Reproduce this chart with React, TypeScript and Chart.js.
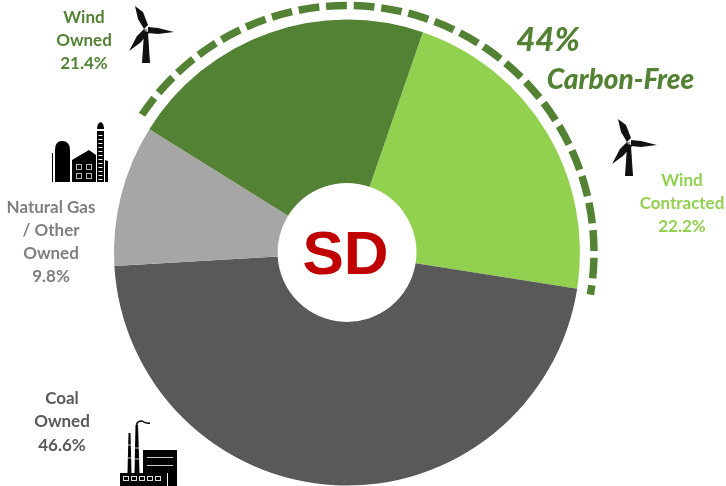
import React, { useEffect, useRef } from "react";
import { Chart, registerables } from "chart.js";

Chart.register(...registerables);

const categories = ["Wind Contracted", "Coal Owned", "Natural Gas / Other Owned", "Wind Owned"];
const shares = [22.2, 46.6, 9.8, 21.4];
const colors = ["#92D050", "#595959", "#A6A6A6", "#548235"];
const centerLabel = "SD";
const carbonShare = "44%";
const carbonLabel = "Carbon-Free";

type Note = { lines: string[]; x: number; ys: number[]; color: string };
const notes: Note[] = [
  { lines: ["Wind", "Owned", "21.4%"], x: 84, ys: [18, 41, 64], color: "#548235" },
  { lines: ["Natural Gas", "/ Other", "Owned", "9.8%"], x: 51, ys: [208, 231, 254, 277], color: "#7F7F7F" },
  { lines: ["Coal", "Owned", "46.6%"], x: 62, ys: [399, 422, 446], color: "#595959" },
  { lines: ["Wind", "Contracted", "22.2%"], x: 682, ys: [181, 204, 227], color: "#92D050" },
];

function turbine(ctx: CanvasRenderingContext2D, x: number, y: number) {
  ctx.save();
  ctx.translate(x, y);
  ctx.fillStyle = "#111111";
  ctx.fill(new Path2D("M-11 -24 L-3 -18 L2 -5 L-2 -1 L-8 -11 Z"));
  ctx.fill(new Path2D("M28 2 L12 -2 L2 -3 L2 3 L12 4 Z"));
  ctx.fill(new Path2D("M-17 21 L-9 6 L-2 -1 L3 3 L-6 13 Z"));
  ctx.fill(new Path2D("M-2 3 L2 3 L4 33 L-4 33 Z"));
  ctx.fillStyle = "#999999";
  ctx.beginPath();
  ctx.arc(0, 0, 1.5, 0, Math.PI * 2);
  ctx.fill();
  ctx.restore();
}

function barn(ctx: CanvasRenderingContext2D) {
  ctx.save();
  ctx.fillStyle = "#000000";
  ctx.fill(new Path2D("M55 182 L55 150 Q55 141 62 141 Q70 141 70 150 L70 182 Z"));
  ctx.fill(new Path2D("M52 182 L52 153 L53 153 L53 182 Z"));
  ctx.fill(new Path2D("M72 182 L72 160 L89 150 L96 155 L96 182 Z"));
  ctx.fill(new Path2D("M97 182 L97 131 L104 131 L104 182 Z"));
  ctx.fill(new Path2D("M97 129 Q97 123 101 122 Q104 124 104 129 Z"));
  ctx.fill(new Path2D("M105 160 L108 161 L108 182 L105 182 Z"));
  ctx.strokeStyle = "#FFFFFF";
  ctx.lineWidth = 1;
  for (let y = 135; y < 182; y += 4) {
    ctx.beginPath();
    ctx.moveTo(98.5, y + 0.5);
    ctx.lineTo(102.5, y + 0.5);
    ctx.stroke();
  }
  ctx.strokeStyle = "#BBBBBB";
  [[76, 164], [86, 164], [76, 173], [86, 173]].forEach(([x, y]) => {
    ctx.strokeRect(x + 0.5, y + 0.5, 5, 5);
  });
  ctx.restore();
}

function factory(ctx: CanvasRenderingContext2D) {
  ctx.save();
  ctx.fillStyle = "#000000";
  ctx.fill(new Path2D("M127.5 473 L128.5 433 L130.5 433 L131.5 473 Z"));
  ctx.fill(new Path2D("M134.5 473 L135.5 425 L138 425 L139.5 473 Z"));
  ctx.fill(new Path2D("M143 486 L143 450 L177 450 L177 486 Z"));
  ctx.fill(new Path2D("M120 486 L120 473 L167 473 L167 486 Z"));
  ctx.strokeStyle = "#000000";
  ctx.lineWidth = 1.5;
  ctx.beginPath();
  ctx.moveTo(136.5, 425);
  ctx.quadraticCurveTo(137, 421, 142, 421);
  ctx.quadraticCurveTo(146, 424, 150, 423);
  ctx.stroke();
  ctx.strokeStyle = "#CCCCCC";
  ctx.lineWidth = 1;
  [457.5, 465.5].forEach((y) => {
    ctx.beginPath();
    ctx.moveTo(147, y);
    ctx.lineTo(173, y);
    ctx.stroke();
  });
  ctx.strokeStyle = "#FFFFFF";
  ctx.beginPath();
  ctx.moveTo(167.5, 473);
  ctx.lineTo(167.5, 486);
  ctx.stroke();
  ctx.strokeStyle = "#DDDDDD";
  [123, 131, 139, 147, 155].forEach((x) => ctx.strokeRect(x + 0.5, 476.5, 5, 4));
  [128, 135].forEach((x, i) => {
    ctx.strokeStyle = "#CCCCCC";
    ctx.beginPath();
    ctx.moveTo(x, 445 + i * 3);
    ctx.lineTo(x + 3 + i, 445 + i * 3);
    ctx.moveTo(x, 458 + i);
    ctx.lineTo(x + 3 + i, 458 + i);
    ctx.stroke();
  });
  ctx.restore();
}

const decorations = {
  id: "decorations",
  afterDatasetsDraw(chart: any) {
    const ctx: CanvasRenderingContext2D = chart.ctx;
    const arc = chart.getDatasetMeta(0).data[0];
    const toRad = Math.PI / 180;

    ctx.save();
    ctx.strokeStyle = "#548235";
    ctx.lineWidth = 7.5;
    ctx.setLineDash([20.8, 6.8]);
    ctx.beginPath();
    ctx.arc(arc.x, arc.y, arc.outerRadius + 14, (303.9 - 90) * toRad, (99.8 - 90) * toRad);
    ctx.stroke();
    ctx.setLineDash([]);

    ctx.textAlign = "center";
    ctx.textBaseline = "middle";
    ctx.fillStyle = "#C00000";
    ctx.font = 'bold 62px "Liberation Sans"';
    ctx.fillText(centerLabel, 345.5, 257);

    ctx.font = 'bold 17px Lato';
    notes.forEach((n) => {
      ctx.fillStyle = n.color;
      n.lines.forEach((t, i) => ctx.fillText(t, n.x, n.ys[i]));
    });

    ctx.fillStyle = "#548235";
    ctx.font = 'italic 900 33px Lato';
    ctx.fillText(carbonShare, 548, 40);
    ctx.font = 'italic 900 28px Lato';
    ctx.fillText(carbonLabel, 620.5, 80);
    ctx.restore();

    turbine(ctx, 146, 30);
    turbine(ctx, 629, 143);
    barn(ctx);
    factory(ctx);
  },
};

export default function App() {
  const ref = useRef<HTMLCanvasElement>(null);
  useEffect(() => {
    document.body.style.background = "#FFFFFF";
    const chart = new Chart(ref.current!, {
      type: "doughnut",
      data: {
        labels: categories,
        datasets: [{ data: shares, backgroundColor: colors, borderWidth: 0 }],
      },
      options: {
        responsive: false,
        animation: false,
        rotation: 19,
        cutout: "29.8%",
        layout: { padding: { left: 114, right: 146, top: 19.5, bottom: 0.5 } },
        plugins: { legend: { display: false }, tooltip: { enabled: false } },
      },
      plugins: [decorations],
    });
    return () => chart.destroy();
  }, []);
  return (
    <canvas
      ref={ref}
      width={726}
      height={486}
      style={{ position: "absolute", left: 0, top: 0, display: "block" }}
    />
  );
}
